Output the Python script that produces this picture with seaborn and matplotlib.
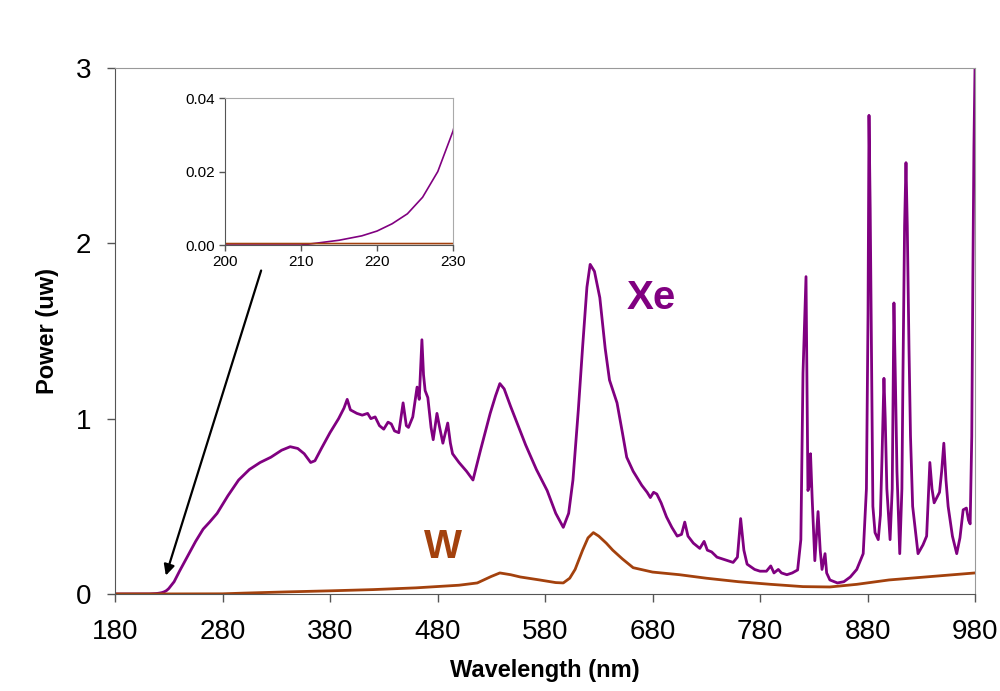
import numpy as np
import pandas as pd
import matplotlib
matplotlib.use("Agg")
import matplotlib.pyplot as plt
import seaborn as sns

# Xe lamp spectrum
xe_nm = [180, 200, 210, 212, 215, 218, 220, 222, 224, 226, 228, 230, 235, 240, 248,
         255, 262, 268, 275, 285, 295, 305, 315, 325, 335, 343, 350, 356, 362, 366,
         372, 380, 388, 393, 396, 399, 405, 410, 415, 418, 422, 426, 430, 434, 437,
         440, 444, 448, 451, 453, 457, 461, 463, 465.5, 467, 468.5, 471, 474, 476,
         479.5, 482, 485, 489.5, 492, 494, 500, 507, 513, 520, 529, 534, 538, 542,
         548, 554, 562, 572, 582, 590, 597, 602, 606, 611, 615, 619, 622, 626, 631,
         636, 640, 647, 652, 656, 662, 670, 675, 678, 681, 684, 688, 693, 698, 703,
         707, 710, 713, 718, 724, 728, 731, 735, 740, 745, 750, 755, 759, 762, 765,
         768, 775, 780, 786, 790, 793, 797, 800, 805, 810, 815, 818, 820, 822.8,
         824.6, 826, 827, 828.5, 831, 834, 836, 837.7, 840.5, 842, 845, 852, 858,
         864, 870, 876, 879, 880.5, 881.4, 882.5, 884, 885, 887, 890, 892, 893.5,
         895.3, 896.5, 898, 901, 903, 904.6, 906, 907.4, 910, 912, 913, 914.5,
         915.8, 917, 918.6, 920, 922, 927, 931.6, 935, 938, 940, 942, 947, 949,
         951, 953, 955, 959, 963, 966, 969, 972, 974, 975.5, 977, 978, 979, 980]
xe_pw = [0, 0, 0, 0.0005, 0.0013, 0.0025, 0.0038, 0.0058, 0.0085, 0.013, 0.020,
         0.031, 0.07, 0.13, 0.22, 0.30, 0.37, 0.41, 0.46, 0.56, 0.65, 0.71, 0.75,
         0.78, 0.82, 0.84, 0.83, 0.80, 0.75, 0.76, 0.83, 0.92, 1.00, 1.06, 1.11,
         1.05, 1.03, 1.02, 1.03, 1.00, 1.01, 0.96, 0.94, 0.98, 0.97, 0.93, 0.92,
         1.09, 0.96, 0.95, 1.01, 1.18, 1.11, 1.45, 1.25, 1.16, 1.12, 0.95, 0.88,
         1.03, 0.95, 0.86, 0.975, 0.86, 0.80, 0.75, 0.70, 0.65, 0.82, 1.03, 1.13,
         1.20, 1.17, 1.07, 0.975, 0.85, 0.71, 0.59, 0.46, 0.38, 0.46, 0.65, 1.05,
         1.41, 1.75, 1.88, 1.84, 1.69, 1.40, 1.22, 1.09, 0.92, 0.78, 0.70, 0.62,
         0.58, 0.55, 0.58, 0.57, 0.52, 0.44, 0.38, 0.33, 0.34, 0.41, 0.33, 0.29,
         0.26, 0.30, 0.25, 0.24, 0.21, 0.20, 0.19, 0.18, 0.21, 0.43, 0.25, 0.17,
         0.14, 0.13, 0.13, 0.16, 0.12, 0.14, 0.12, 0.11, 0.12, 0.137, 0.31, 1.26,
         1.81, 0.59, 0.62, 0.80, 0.55, 0.19, 0.47, 0.25, 0.14, 0.23, 0.12, 0.08,
         0.063, 0.07, 0.097, 0.14, 0.23, 0.60, 1.6, 2.73, 2.2, 1.2, 0.50, 0.35,
         0.31, 0.45, 0.78, 1.23, 1.0, 0.6, 0.31, 0.6, 1.66, 1.2, 0.70, 0.23, 0.6,
         1.26, 2.1, 2.46, 2.1, 1.40, 0.9, 0.50, 0.23, 0.28, 0.33, 0.75, 0.60, 0.52,
         0.58, 0.70, 0.86, 0.65, 0.50, 0.33, 0.23, 0.32, 0.48, 0.49, 0.42, 0.40,
         0.9, 1.8, 2.55, 3.0]

# W (tungsten) lamp spectrum
w_nm = [180, 230, 280, 300, 340, 380, 420, 460, 500, 517, 530, 538, 548, 557, 575,
        590, 597, 603, 608, 615, 620, 625, 630, 637, 643, 652, 662, 680, 705, 730,
        760, 790, 820, 845, 870, 900, 940, 980]
w_pw = [0.0004, 0.0004, 0.001, 0.005, 0.012, 0.018, 0.025, 0.035, 0.05, 0.063,
        0.10, 0.12, 0.11, 0.097, 0.08, 0.065, 0.063, 0.09, 0.14, 0.25, 0.32, 0.35,
        0.33, 0.29, 0.25, 0.20, 0.15, 0.125, 0.11, 0.09, 0.07, 0.055, 0.042, 0.04,
        0.055, 0.08, 0.10, 0.12]

XE_COLOR = "#800080"
W_COLOR = "#A3410D"

df = pd.concat([
    pd.DataFrame({"nm": xe_nm, "power": xe_pw, "lamp": "Xe"}),
    pd.DataFrame({"nm": w_nm, "power": w_pw, "lamp": "W"}),
])

sns.set_style("white")
plt.rcParams["font.family"] = ["Liberation Sans", "DejaVu Sans"]
plt.rcParams["text.color"] = "black"
plt.rcParams["axes.labelcolor"] = "black"
plt.rcParams["xtick.labelcolor"] = "black"
plt.rcParams["ytick.labelcolor"] = "black"

fig = plt.figure(figsize=(10, 6.91), dpi=100)
ax = fig.add_axes([0.115, 0.1404, 0.86, 0.7612])

pal = {"Xe": XE_COLOR, "W": W_COLOR}
sns.lineplot(data=df, x="nm", y="power", hue="lamp", palette=pal,
             linewidth=2.0, legend=False, ax=ax, sort=False)

ax.set_xlim(180, 980)
ax.set_ylim(0, 3)
ax.set_xticks(range(180, 981, 100))
ax.set_yticks([0, 1, 2, 3])
ax.tick_params(axis="x", labelsize=20, direction="out", length=6, width=1,
               color="#555555", pad=12, bottom=True)
ax.tick_params(axis="y", labelsize=20, direction="out", length=6, width=1,
               color="#555555", pad=11, left=True)
ax.set_xlabel("Wavelength (nm)", fontsize=17, fontweight="bold", labelpad=10)
ax.set_ylabel("Power (uw)", fontsize=17, fontweight="bold", labelpad=12)
for side in ["left", "bottom"]:
    ax.spines[side].set_color("#555555")
for side in ["top", "right"]:
    ax.spines[side].set_color("#999999")

ax.text(679, 1.69, "Xe", color=XE_COLOR, fontsize=29, fontweight="bold",
        ha="center", va="center")
ax.text(485, 0.27, "W", color=W_COLOR, fontsize=29, fontweight="bold",
        ha="center", va="center")

ax.annotate("", xy=(226.5, 0.09), xytext=(316.7, 1.86),
            arrowprops=dict(arrowstyle="-|>", color="black", lw=1.6,
                            mutation_scale=16))

# zoomed inset
ins = fig.add_axes([0.225, 0.6454, 0.228, 0.2127])
sns.lineplot(data=df, x="nm", y="power", hue="lamp", palette=pal,
             linewidth=1.2, legend=False, ax=ins, sort=False)
ins.set_xlim(200, 230)
ins.set_ylim(0, 0.04)
ins.set_xticks([200, 210, 220, 230])
ins.set_yticks([0, 0.02, 0.04])
ins.set_yticklabels(["0.00", "0.02", "0.04"])
ins.tick_params(labelsize=11, direction="out", length=4, width=1,
                color="#555555", pad=3, bottom=True, left=True)
ins.set_xlabel("")
ins.set_ylabel("")
for side in ["left", "bottom"]:
    ins.spines[side].set_color("#555555")
for side in ["top", "right"]:
    ins.spines[side].set_color("#aaaaaa")

fig.savefig("out.png", dpi=100)
